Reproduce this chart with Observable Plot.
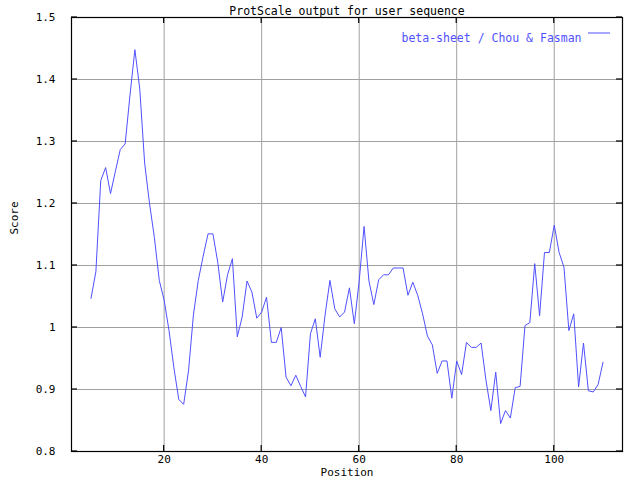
<!DOCTYPE html>
<html>
<head>
<meta charset="utf-8">
<script src="https://cdn.jsdelivr.net/npm/d3@7"></script>
<script src="https://cdn.jsdelivr.net/npm/@observablehq/plot@0.6"></script>
<style>
  html, body { margin: 0; padding: 0; background: white; }
</style>
</head>
<body>
<div id="chart"></div>
<script>
const titleText = "ProtScale output for user sequence";
const legendText = "beta-sheet / Chou & Fasman";
const xLabel = "Position";
const yLabel = "Score";

const positions = d3.range(5, 111);
const scores = [
  1.047,1.09,1.237,1.258,1.216,1.252,1.287,1.296,1.375,1.448,
  1.385,1.265,1.20,1.145,1.076,1.044,0.995,0.935,0.884,0.876,
  0.93,1.02,1.076,1.115,1.151,1.151,1.105,1.041,1.085,1.111,
  0.985,1.017,1.075,1.057,1.015,1.025,1.049,0.976,0.976,1.0,
  0.92,0.906,0.923,0.905,0.888,0.99,1.014,0.952,1.02,1.076,
  1.03,1.017,1.025,1.064,1.006,1.075,1.163,1.075,1.037,1.077,
  1.085,1.085,1.096,1.096,1.096,1.052,1.073,1.052,1.022,0.986,
  0.972,0.926,0.946,0.946,0.886,0.946,0.924,0.976,0.968,0.968,
  0.975,0.915,0.866,0.928,0.845,0.866,0.854,0.903,0.905,1.003,
  1.008,1.103,1.019,1.121,1.121,1.165,1.121,1.097,0.995,1.022,
  0.904,0.975,0.898,0.896,0.908,0.944
];
const xTicks = [20, 40, 60, 80, 100];
const yTicks = [0.8, 0.9, 1.0, 1.1, 1.2, 1.3, 1.4, 1.5];
const yTickLabels = ["0.8", "0.9", "1", "1.1", "1.2", "1.3", "1.4", "1.5"];

const data = positions.map((p, i) => ({position: p, score: scores[i]}));

const W = 640, H = 480;
const mL = 71, mR = 18, mT = 17, mB = 29;
const tickLen = 6;
const lineColor = "rgb(80,80,255)";
const font = "DejaVu Sans Mono";

const chart = Plot.plot({
  width: W,
  height: H,
  marginLeft: mL,
  marginRight: mR,
  marginTop: mT,
  marginBottom: mB,
  style: {fontFamily: font, fontSize: "11px", background: "white", color: "black"},
  x: {domain: [1, 114]},
  y: {domain: [0.8, 1.5]},
  marks: [
    Plot.gridX(xTicks, {stroke: "#a0a0a0", strokeOpacity: 1}),
    Plot.gridY(yTicks, {stroke: "#a0a0a0", strokeOpacity: 1}),
    Plot.line(data, {x: "position", y: "score", stroke: lineColor, strokeWidth: 1}),
    Plot.axisX(xTicks, {anchor: "bottom", tickSize: 0, tickPadding: 4, label: null, fill: "black"}),
    Plot.axisY(yTicks, {anchor: "left", tickSize: 0, tickPadding: 16, label: null, fill: "black",
      tickFormat: (d) => yTickLabels[yTicks.indexOf(d)]}),
    Plot.frame({stroke: "black", strokeWidth: 1.2}),
    Plot.text([titleText], {frameAnchor: "top", dy: -11, fill: "black", fontSize: 11.5}),
    Plot.text([xLabel], {frameAnchor: "bottom", dy: 24, fill: "black"}),
    Plot.text([yLabel], {frameAnchor: "left", dx: -57, rotate: -90, fill: "black"}),
    Plot.text([legendText], {frameAnchor: "top-right", dx: -41, dy: 16, textAnchor: "end", fill: lineColor, fontSize: 11.5})
  ]
});

// inward tick marks on all four sides, placed with the chart's own scales
const sx = chart.scale("x"), sy = chart.scale("y");
const svgSel = d3.select(chart);
const tg = svgSel.append("g").attr("stroke", "black").attr("stroke-width", 1.2);
const fTop = mT, fBottom = H - mB, fLeft = mL, fRight = W - mR;
for (const t of xTicks) {
  const px = sx.apply(t);
  tg.append("line").attr("x1", px).attr("x2", px).attr("y1", fBottom).attr("y2", fBottom - tickLen);
  tg.append("line").attr("x1", px).attr("x2", px).attr("y1", fTop).attr("y2", fTop + tickLen);
}
for (const t of yTicks) {
  const py = sy.apply(t);
  tg.append("line").attr("y1", py).attr("y2", py).attr("x1", fLeft).attr("x2", fLeft + tickLen);
  tg.append("line").attr("y1", py).attr("y2", py).attr("x1", fRight).attr("x2", fRight - tickLen);
}

// legend line sample
svgSel.append("line")
  .attr("x1", W - mR - 34).attr("x2", W - mR - 12)
  .attr("y1", mT + 16).attr("y2", mT + 16)
  .attr("stroke", lineColor).attr("stroke-width", 1);

document.getElementById("chart").appendChild(chart);
</script>
</body>
</html>
